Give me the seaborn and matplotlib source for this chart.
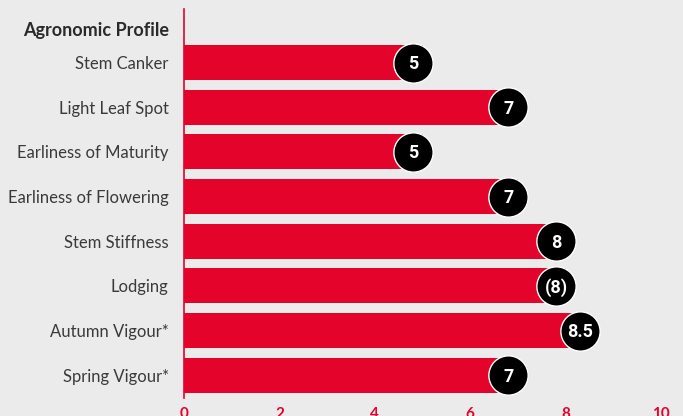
import matplotlib
matplotlib.use("Agg")
import matplotlib.pyplot as plt
import seaborn as sns
import pandas as pd

categories = ["Stem Canker", "Light Leaf Spot", "Earliness of Maturity",
              "Earliness of Flowering", "Stem Stiffness", "Lodging",
              "Autumn Vigour*", "Spring Vigour*"]
values = [5, 7, 5, 7, 8, 8, 8.5, 7]
badges = ["5", "7", "5", "7", "8", "(8)", "8.5", "7"]
header = "Agronomic Profile"
xticks = [0, 2, 4, 6, 8, 10]

RED = "#e3032b"
BG = "#ebebeb"

sns.set_theme(style="white")
plt.rcParams['font.family'] = ['Lato', 'DejaVu Sans']

df = pd.DataFrame({"cat": categories, "val": values})

fig = plt.figure(figsize=(6.83, 4.16), dpi=100, facecolor=BG)
ax = fig.add_axes([184/683, 18.5/416, (661-184)/683, 402/416])
ax.set_facecolor(BG)

sns.barplot(data=df, x="val", y="cat", order=categories, color=RED,
            width=0.78, saturation=1, ax=ax, orient="h")
for p in ax.patches:
    p.set_edgecolor("none")

ax.set_xlim(0, 10)
ax.set_ylim(len(categories) - 0.5, -1.5)

ypos = list(range(len(categories)))
off = 0.2
ax.scatter([v - off for v in values], ypos, s=800, color="black",
           edgecolors="white", linewidths=1.0, zorder=5, clip_on=False)
for v, y, b in zip(values, ypos, badges):
    ax.text(v - off, y + 0.03, b, color="white", ha="center", va="center",
            fontsize=13, fontweight="bold", family=['Roboto', 'DejaVu Sans'],
            zorder=6)

ax.set_yticks([-0.76] + ypos)
ax.set_yticklabels([header] + categories, fontsize=12, color="#3a3a3a")
hl = ax.get_yticklabels()[0]
hl.set_fontweight("bold")
hl.set_fontsize(13)
hl.set_color("#2a2a2a")
ax.tick_params(axis="y", length=0, pad=11)

ax.set_xticks(xticks)
ax.set_xticklabels([str(t) for t in xticks], color=RED, fontsize=11,
                   fontweight="bold")
ax.tick_params(axis="x", length=4, color=RED, width=1, direction="out", pad=3)

for s in ["top", "right", "bottom"]:
    ax.spines[s].set_visible(False)
ax.spines["left"].set_color(RED)
ax.spines["left"].set_linewidth(1.2)
ax.spines["left"].set_bounds(len(categories) - 0.5, -1.2)

ax.set_xlabel("")
ax.set_ylabel("")

fig.savefig("out.png", dpi=100, facecolor=BG)
